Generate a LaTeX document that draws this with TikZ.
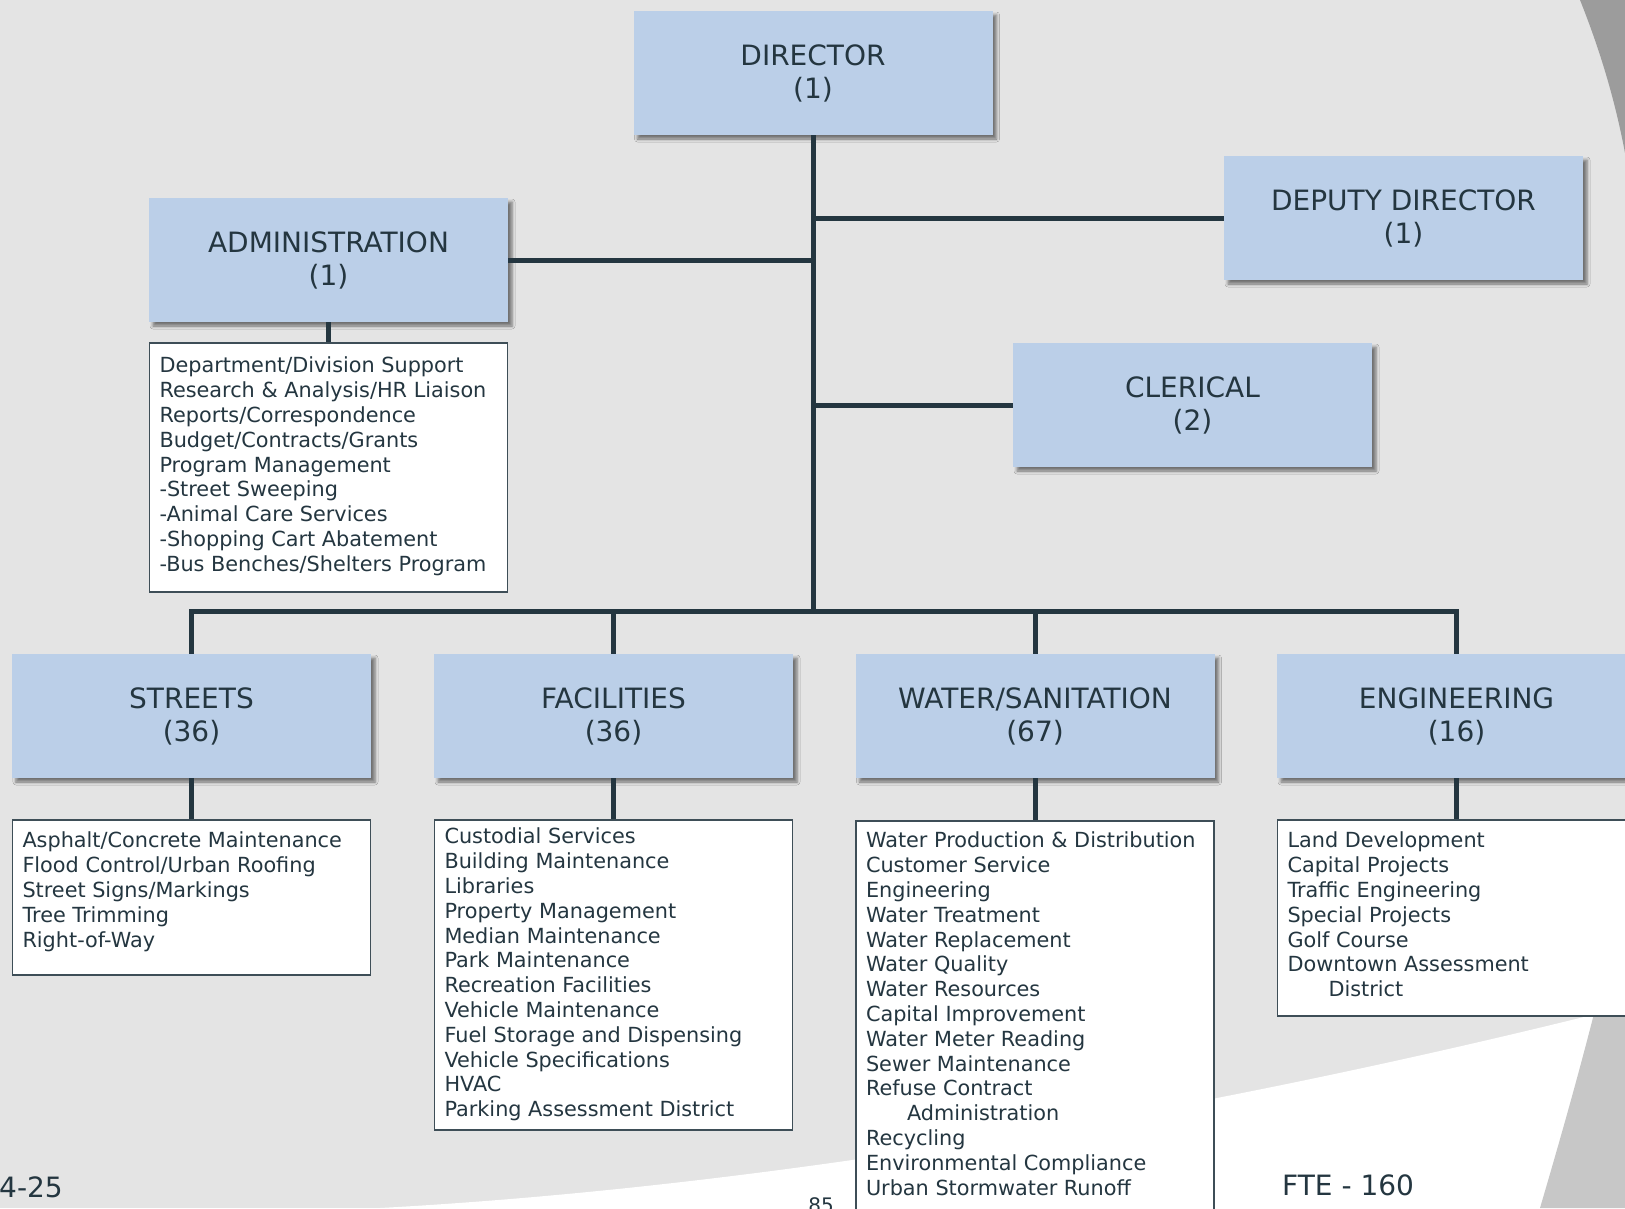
\documentclass[tikz,border=0pt]{standalone}
\usepackage{fontspec}
\setmainfont{DejaVu Sans}
\usetikzlibrary{positioning,shadows.blur}
\definecolor{ink}{RGB}{36,54,64}
\definecolor{unitblue}{RGB}{187,207,232}
\definecolor{paper}{RGB}{228,228,228}
\definecolor{sweepdark}{RGB}{156,156,156}
\definecolor{sweepmid}{RGB}{199,199,199}
\definecolor{dutyline}{RGB}{62,78,87}
\newcommand{\dutylist}[3]{\parbox[t][#1][t]{358pt}{\leftskip=10pt\rightskip=0pt plus 1fil\rule{0pt}{#2}#3}}
\tikzset{%
  unit box/.style={
    rectangle,
    fill=unitblue,
    text=ink,
    minimum width=359pt,
    minimum height=124pt,
    align=center,
    font=\fontsize{28}{33}\selectfont,
    blur shadow={shadow xshift=4pt, shadow yshift=-4pt, shadow blur radius=3pt, shadow opacity=50}
  },
  duty box/.style={
    rectangle,
    draw=dutyline,
    line width=1.3pt,
    fill=white,
    text=ink,
    inner sep=0pt,
    node distance=41pt,
    font=\fontsize{20.8}{24.8}\selectfont
  },
  link/.style={draw=ink, line width=5pt},
  footer/.style={text=ink, inner sep=0pt, font=\fontsize{28}{33}\selectfont},
}

\begin{document}
\begin{tikzpicture}[x=1pt,y=-1pt]
  \useasboundingbox (0,0) rectangle (1625,1208);
  \clip (0,0) rectangle (1625,1208);
  % page background
  \fill[paper] (0,0) rectangle (1625,1208);
  \fill[white] (380,1208) .. controls (800,1185) and (1250,1100) .. (1600,1013)
    -- (1625,1000) -- (1625,1208) -- cycle;
  \fill[sweepdark] (1580,0) .. controls (1600,50) and (1615,100) .. (1625,153)
    -- (1625,0) -- cycle;
  \fill[sweepmid] (1600,990) .. controls (1580,1070) and (1560,1140) .. (1540,1208)
    -- (1625,1208) -- (1625,990) -- cycle;

  % top of the chart
  \node[unit box] (director) at (813,73) {DIRECTOR\\(1)};
  \node[unit box] (deputy) at (1403.5,218) {DEPUTY DIRECTOR\\(1)};
  \node[unit box] (admin) at (328.5,260) {ADMINISTRATION\\(1)};
  \node[unit box] (clerical) at (1192.5,405) {CLERICAL\\(2)};
  \node[duty box, below=20pt of admin] (adminduties) {\dutylist{249pt}{30pt}{%
    Department/Division Support\\Research \& Analysis/HR Liaison\\Reports/Correspondence\\%
    Budget/Contracts/Grants\\Program Management\\-Street Sweeping\\-Animal Care Services\\%
    -Shopping Cart Abatement\\-Bus Benches/Shelters Program}};

  \coordinate (bus) at (813,611);
  \draw[link] (director.south) -- (bus);
  \draw[link] (deputy.west) -- (deputy.west -| director.south);
  \draw[link] (admin.east) -- (admin.east -| director.south);
  \draw[link] (clerical.west) -- (clerical.west -| director.south);
  \draw[link] (admin.south) -- (adminduties.north);

  % divisions
  \foreach \name/\title/\fte/\x in {streets/STREETS/36/191.5, facilities/FACILITIES/36/613.5,
      water/{WATER/SANITATION}/67/1035, engineering/ENGINEERING/16/1456.5} {
    \node[unit box] (\name) at (\x,716) {\title\\(\fte)};
    \draw[link] (bus) -| (\name.north);
  }

  \node[duty box, below=of streets] (streetsduties) {\dutylist{155pt}{28pt}{%
    Asphalt/Concrete Maintenance\\Flood Control/Urban Roofing\\Street Signs/Markings\\%
    Tree Trimming\\Right-of-Way}};
  \node[duty box, below=of facilities] (facilitiesduties) {\dutylist{310pt}{24pt}{%
    Custodial Services\\Building Maintenance\\Libraries\\Property Management\\%
    Median Maintenance\\Park Maintenance\\Recreation Facilities\\Vehicle Maintenance\\%
    Fuel Storage and Dispensing\\Vehicle Specifications\\HVAC\\Parking Assessment District}};
  \node[duty box, below=42pt of water] (waterduties) {\dutylist{400pt}{27pt}{%
    Water Production \& Distribution\\Customer Service\\Engineering\\Water Treatment\\%
    Water Replacement\\Water Quality\\Water Resources\\Capital Improvement\\%
    Water Meter Reading\\Sewer Maintenance\\Refuse Contract\\\hspace*{41pt}Administration\\%
    Recycling\\Environmental Compliance\\Urban Stormwater Runoff}};
  \node[duty box, below=of engineering] (engineeringduties) {\dutylist{196pt}{28pt}{%
    Land Development\\Capital Projects\\Traffic Engineering\\Special Projects\\%
    Golf Course\\Downtown Assessment\\\hspace*{41pt}District}};

  \foreach \name in {streets,facilities,water,engineering}
    \draw[link] (\name.south) -- (\name duties.north);

  % page footer
  \node[footer, anchor=base east] (year) at (63,1197) {24-25};
  \node[footer, anchor=base west] (fte) at (1282,1195) {FTE - 160};
  \node[footer, font=\fontsize{20}{24}\selectfont, anchor=base] (pageno) at (821,1212) {85};
\end{tikzpicture}
\end{document}
